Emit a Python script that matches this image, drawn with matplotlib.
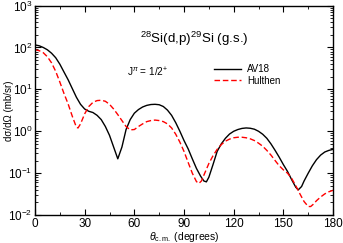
import matplotlib
matplotlib.use("Agg")
import matplotlib.pyplot as plt
from matplotlib.ticker import MultipleLocator, LogLocator, NullFormatter

plt.rcParams['font.family'] = ['Liberation Sans', 'DejaVu Sans']
plt.rcParams['mathtext.fontset'] = 'custom'
plt.rcParams['mathtext.rm'] = 'Liberation Sans'
plt.rcParams['mathtext.it'] = 'Liberation Sans:italic'

# AV18 angular distribution
av18_theta = [0, 2.5, 5, 7.5, 10, 12.5, 15, 17.5, 20, 22.5, 25, 27.5, 30, 32.5, 35, 37.5,
              40, 42.5, 45, 47.5, 50, 52.5, 55, 57.5, 60, 62.5, 65, 67.5, 70, 72.5, 75,
              77.5, 80, 82.5, 85, 87.5, 90, 92.5, 95, 97.5, 100, 102, 103.5, 105, 107.5,
              110, 112.5, 115, 117.5, 120, 122.5, 125, 127.5, 130, 132.5, 135, 137.5, 140,
              142.5, 145, 147.5, 150, 152.5, 155, 157.5, 159, 161, 162.5, 165, 167.5, 170,
              172.5, 175, 177.5, 180]
av18_xs = [115, 110, 100, 88, 73, 57, 40, 26, 17, 10.5, 6.5, 4.4, 3.4, 3.0, 2.8, 2.4,
           1.9, 1.3, 0.8, 0.42, 0.22, 0.42, 1.1, 1.9, 2.7, 3.3, 3.8, 4.15, 4.35, 4.4, 4.3,
           3.9, 3.2, 2.4, 1.6, 1.0, 0.6, 0.38, 0.22, 0.13, 0.085, 0.065, 0.062, 0.08, 0.16,
           0.33, 0.5, 0.68, 0.86, 1.0, 1.1, 1.17, 1.2, 1.18, 1.12, 1.0, 0.85, 0.68,
           0.5, 0.35, 0.24, 0.16, 0.11, 0.07, 0.046, 0.04, 0.048, 0.065, 0.1, 0.15, 0.21,
           0.27, 0.32, 0.35, 0.37]

# Hulthen angular distribution
hul_theta = [0, 2.5, 5, 7.5, 10, 12.5, 15, 17.5, 20, 22.5, 25, 26, 27.5, 30, 32.5, 35, 37.5,
             40, 42.5, 45, 47.5, 50, 52.5, 55, 57.5, 60, 62.5, 65, 67.5, 70, 72.5, 75,
             77.5, 80, 82.5, 85, 87.5, 90, 92.5, 95, 97.5, 99, 100.5, 102.5, 105, 107.5,
             110, 112.5, 115, 117.5, 120, 122.5, 125, 127.5, 130, 132.5, 135, 137.5, 140,
             142.5, 145, 147.5, 150, 152.5, 155, 157.5, 160, 162.5, 165, 166.5, 168, 170,
             172.5, 175, 177.5, 180]
hul_xs = [88, 84, 75, 60, 43, 27, 15, 8, 4.5, 2.3, 1.25, 1.2, 1.5, 2.6, 3.9, 4.9, 5.4,
          5.5, 5.2, 4.4, 3.4, 2.5, 1.8, 1.3, 1.08, 1.1, 1.3, 1.5, 1.7, 1.8, 1.85, 1.8,
          1.7, 1.5, 1.2, 0.85, 0.55, 0.33, 0.18, 0.1, 0.063, 0.057, 0.065, 0.1, 0.17, 0.26,
          0.37, 0.48, 0.58, 0.65, 0.7, 0.72, 0.72, 0.7, 0.66, 0.6, 0.52, 0.44, 0.35,
          0.27, 0.2, 0.15, 0.12, 0.1, 0.075, 0.05, 0.032, 0.021, 0.016, 0.016, 0.018, 0.022,
          0.027, 0.032, 0.036, 0.039]

x_ticks = [0, 30, 60, 90, 120, 150, 180]

fig = plt.figure(figsize=(3.43, 2.43), dpi=100)
ax = fig.add_axes([0.102, 0.115, 0.869, 0.862])

ax.plot(av18_theta, av18_xs, color='black', lw=1.0, label='AV18')
ax.plot(hul_theta, hul_xs, color='red', lw=1.0, dashes=(4, 2), label='Hulthen')

ax.set_yscale('log')
ax.set_xlim(0, 180)
ax.set_ylim(1e-2, 1e3)
ax.set_xticks(x_ticks)
ax.xaxis.set_minor_locator(MultipleLocator(15))
ax.yaxis.set_major_locator(LogLocator(base=10, numticks=10))
ax.yaxis.set_minor_locator(LogLocator(base=10, subs=range(2, 10), numticks=20))
ax.yaxis.set_minor_formatter(NullFormatter())
ax.tick_params(which='both', direction='in', top=True, right=True, labelsize=8.5)
ax.tick_params(which='major', length=4, width=0.8)
ax.tick_params(which='minor', length=2, width=0.6)
ax.tick_params(axis='x', pad=2)
ax.tick_params(axis='y', pad=2)
for s in ax.spines.values():
    s.set_linewidth(1.0)

ax.set_xlabel(r'$\theta_{\mathrm{c.m.}}$ (degrees)', fontsize=7.5, labelpad=0)
ax.set_ylabel('dσ/dΩ (mb/sr)', fontsize=7, va='center')
ax.yaxis.set_label_coords(-0.088, 0.5)

ax.text(0.535, 0.84, r'$^{28}$Si(d,p)$^{29}$Si (g.s.)', transform=ax.transAxes,
        ha='center', va='center', fontsize=9.6)
ax.text(0.378, 0.68, r'J$^{\pi}$ = 1/2$^{+}$', transform=ax.transAxes,
        ha='center', va='center', fontsize=7.2)

ax.legend(loc='upper left', bbox_to_anchor=(0.6, 0.72), frameon=False, fontsize=7,
          handlelength=2.8, handletextpad=0.6, labelspacing=0.15, borderpad=0, borderaxespad=0)

fig.savefig('out.png', dpi=100)
